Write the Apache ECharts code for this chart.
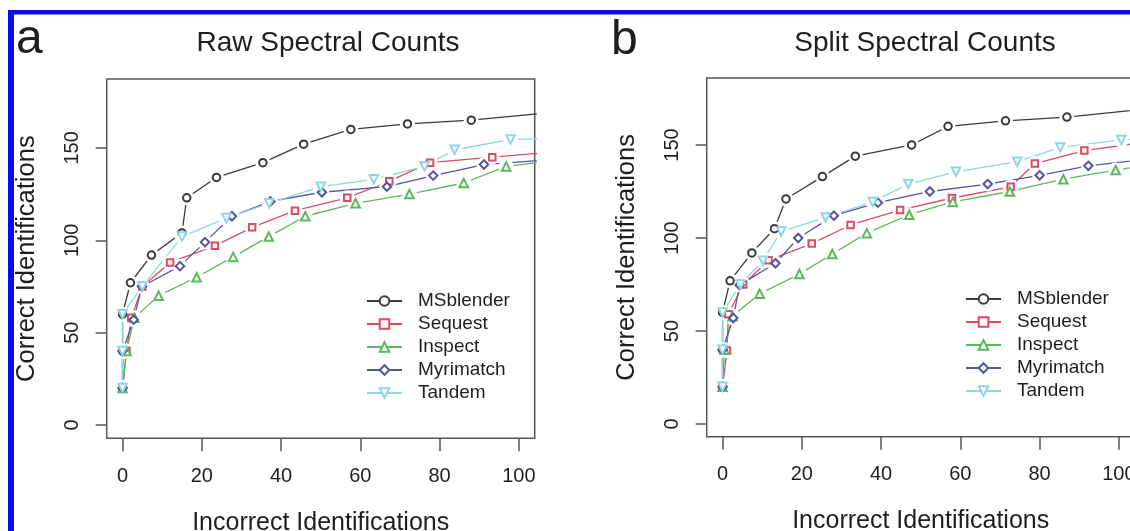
<!DOCTYPE html>
<html><head><meta charset="utf-8">
<script src="https://cdn.jsdelivr.net/npm/echarts@6/dist/echarts.min.js"></script>
<style>html,body{margin:0;padding:0;background:#fff}#c{width:1130px;height:531px}</style>
</head><body><div id="c"></div>
<script>
// ---- data (x = incorrect identifications, y = correct identifications) ----
const seriesNames = ['MSblender', 'Sequest', 'Inspect', 'Myrimatch', 'Tandem'];
const panelTitles = ['Raw Spectral Counts', 'Split Spectral Counts'];
const panelLetters = ['a', 'b'];
const xTicks = [0, 20, 40, 60, 80, 100];
const yTicks = [0, 50, 100, 150];

const rawMSblender = [[0,20],[0,40],[0,60],[2,77],[7.3,92],[15,104],[16.2,123],[23.7,134],[35.4,142],[45.7,152],[57.6,160],[71.9,163],[88,165],[110,169.5]];
const rawSequest   = [[0,20],[1,40],[2.2,58],[5,75],[12,88],[23.3,97],[32.7,107],[43.5,116],[56.7,123],[67.3,132],[77.6,142],[93.3,145],[110,148]];
const rawInspect   = [[0,20],[1,40],[3,58],[9.1,70],[18.7,80],[27.9,91],[36.9,102],[46.1,113],[58.8,120],[72.4,125],[86.1,131],[96.8,140],[110,143.5]];
const rawMyrimatch = [[0,20],[0,40],[2.8,57],[4.9,75],[14.5,86],[20.8,99],[27.6,113],[37.3,121],[50.3,126],[66.7,129],[78.4,135],[91.2,141],[110,144]];
const rawTandem    = [[0,20],[0,40],[0,60],[5,75],[15,102],[26.2,112],[37,120],[50,129],[63.4,133],[76.2,140],[83.8,149],[97.9,154.5],[110,155.5]];

const splitMSblender = [[0,20],[0,40],[0,60],[1.9,77],[7.4,92],[13.1,105],[16,121],[25.2,133],[33.5,144],[47.7,150],[56.9,160],[71.4,163],[86.9,165],[110,170]];
const splitSequest   = [[0,20],[1.1,39.5],[1.5,59],[5.2,75],[11.6,88],[22.5,97],[32.3,107],[44.8,115],[57.9,121.5],[72.7,127.5],[78.8,140],[91.3,147],[110,152.5]];
const splitInspect   = [[0,20],[0.5,40],[2.5,58],[9.35,70],[19.4,80.6],[27.7,91.4],[36.4,102.6],[47.1,112.5],[58.1,119.4],[72.5,125],[86,131.6],[99.2,136.5],[110,140]];
const splitMyrimatch = [[0,20],[0,40],[2.7,57],[4.3,74.7],[13.35,86.4],[19.1,100],[28.1,112],[39.2,119],[52.3,125],[66.9,129],[80,133.7],[92.3,138.8],[110,143]];
const splitTandem    = [[0,20],[0,40],[0,60],[4.5,75],[10.2,87.8],[14.8,103.5],[26,111],[37.9,119.4],[46.85,129],[58.9,135.6],[74.35,141],[85.2,148.7],[100.6,152.7],[110,154]];

const panelData = [
  [rawMSblender, rawSequest, rawInspect, rawMyrimatch, rawTandem],
  [splitMSblender, splitSequest, splitInspect, splitMyrimatch, splitTandem]
];

// ---- styles ----
const FONT = 'Liberation Sans, Arial, Helvetica, sans-serif';
const TXT = '#1e1e1e';
const AX = '#555';
const styles = [
  { color: '#3a3a3a', symbol: 'emptyCircle', rot: 0, size: 7.5 },
  { color: '#e04a60', symbol: 'emptyRect', rot: 0, size: 6.5 },
  { color: '#5cb85c', symbol: 'emptyTriangle', rot: 0, size: 8.5 },
  { color: '#55559c', symbol: 'emptyDiamond', rot: 0, size: 8.5 },
  { color: '#8fd6e4', symbol: 'emptyTriangle', rot: 180, size: 8.5 }
];
const HALO = 15;
const grids = [
  { left: 106.7, top: 79, width: 428, height: 359.3 },
  { left: 706.7, top: 78, width: 428, height: 358.7 }
];
const yRanges = [[-7.2, 187.3], [-6.8, 186]];
const legendPos = [{ left: 361, top: 284.5 }, { left: 960, top: 282.5 }];
const titlePos = [{ x: 323, letterX: 11, letterY: 11 }, { x: 920, letterX: 606, letterY: 12 }];

const chart = echarts.init(document.getElementById('c'), null, { renderer: 'canvas' });

const option = {
  backgroundColor: '#fff',
  animation: false,
  textStyle: { fontFamily: FONT },
  title: [],
  grid: [],
  xAxis: [],
  yAxis: [],
  legend: [],
  series: [],
  graphic: [
    { type: 'rect', shape: { x: 8, y: 10, width: 1122, height: 4.5 }, style: { fill: '#0a0af2' }, silent: true },
    { type: 'rect', shape: { x: 8, y: 10, width: 6, height: 521 }, style: { fill: '#0a0af2' }, silent: true }
  ]
};

const lineSeries = [], haloSeries = [], markSeries = [];

for (let p = 0; p < 2; p++) {
  option.title.push({
    text: panelTitles[p], left: titlePos[p].x, top: 24.5, textAlign: 'center',
    textStyle: { fontFamily: FONT, fontSize: 28, fontWeight: 'normal', color: TXT }
  });
  option.title.push({
    text: panelLetters[p], left: titlePos[p].letterX, top: titlePos[p].letterY,
    textStyle: { fontFamily: FONT, fontSize: 48, fontWeight: 'normal', color: TXT }
  });
  option.grid.push(Object.assign({
    show: true, borderColor: AX, borderWidth: 1.5, backgroundColor: 'transparent',
    containLabel: false, outerBoundsMode: 'none'
  }, grids[p]));
  option.xAxis.push({
    gridIndex: p, type: 'value', min: -4, max: 104,
    name: 'Incorrect Identifications', nameLocation: 'middle', nameGap: 72,
    nameTextStyle: { fontFamily: FONT, fontSize: 25, color: TXT },
    axisLine: { show: false, onZero: false },
    axisTick: { show: true, customValues: xTicks, length: 13, lineStyle: { color: AX, width: 1.5 } },
    axisLabel: { customValues: xTicks, fontFamily: FONT, fontSize: 20, color: TXT, margin: 28 },
    splitLine: { show: false }
  });
  option.yAxis.push({
    gridIndex: p, type: 'value', min: yRanges[p][0], max: yRanges[p][1],
    name: 'Correct Identifications', nameLocation: 'middle', nameGap: 67,
    nameTextStyle: { fontFamily: FONT, fontSize: 25.5, color: TXT },
    axisLine: { show: false, onZero: false },
    axisTick: { show: true, customValues: yTicks, length: 11, lineStyle: { color: AX, width: 1.5 } },
    axisLabel: { customValues: yTicks, rotate: 90, fontFamily: FONT, fontSize: 20, color: TXT, margin: 24 },
    splitLine: { show: false }
  });
  option.legend.push({
    data: seriesNames, orient: 'vertical', left: legendPos[p].left, top: legendPos[p].top,
    itemWidth: 35, itemHeight: 12, itemGap: 0, selectedMode: false,
    textStyle: { fontFamily: FONT, fontSize: 19, color: TXT, lineHeight: 23, padding: [0, 0, 0, 11] }
  });
  for (let i = 0; i < seriesNames.length; i++) {
    const s = styles[i];
    // connecting line (also supplies the legend icon)
    lineSeries.push({
      type: 'line', name: seriesNames[i], xAxisIndex: p, yAxisIndex: p, z: 2,
      data: panelData[p][i], clip: true,
      symbol: s.symbol, symbolSize: s.size, symbolRotate: s.rot, showAllSymbol: true,
      lineStyle: { color: s.color, width: 1.3 },
      itemStyle: { color: s.color, borderWidth: 1.2 },
      emphasis: { disabled: true }, silent: true
    });
    // white gap round each point (R type = "b")
    haloSeries.push({
      type: 'scatter', name: seriesNames[i] + ' gap', xAxisIndex: p, yAxisIndex: p, z: 5,
      data: panelData[p][i], clip: true, symbol: 'circle', symbolSize: HALO,
      itemStyle: { color: '#ffffff', opacity: 1 }, emphasis: { disabled: true }, silent: true
    });
    // open plotting symbols
    markSeries.push({
      type: 'scatter', name: seriesNames[i] + ' pts', xAxisIndex: p, yAxisIndex: p, z: 8,
      data: panelData[p][i], clip: true,
      symbol: s.symbol, symbolSize: s.size, symbolRotate: s.rot,
      itemStyle: { color: s.color, borderColor: s.color, borderWidth: 1.2, opacity: 1 },
      emphasis: { disabled: true }, silent: true
    });
  }
}
option.series = lineSeries.concat(haloSeries, markSeries);

chart.setOption(option);
</script>
</body></html>
